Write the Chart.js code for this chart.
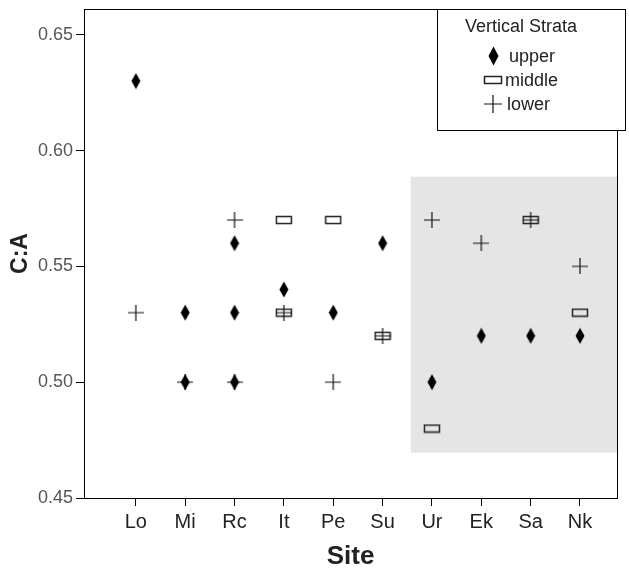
<!DOCTYPE html>
<html>
<head>
<meta charset="utf-8">
<script src="https://cdn.jsdelivr.net/npm/chart.js@4/dist/chart.umd.min.js"></script>
<style>
  html, body { margin: 0; padding: 0; background: #fff; }
  #wrap { width: 629px; height: 570px; }
</style>
</head>
<body>
<div id="wrap"><canvas id="chart" width="629" height="570"></canvas></div>
<script>
// Sites along the x axis
const sites = ['Lo', 'Mi', 'Rc', 'It', 'Pe', 'Su', 'Ur', 'Ek', 'Sa', 'Nk'];

// C:A values per vertical stratum
const upperSite  = ['Lo', 'Mi', 'Mi', 'Rc', 'Rc', 'Rc', 'It', 'Pe', 'Su', 'Ur', 'Ek', 'Sa', 'Nk'];
const upperVal   = [0.63, 0.53, 0.50, 0.56, 0.53, 0.50, 0.54, 0.53, 0.56, 0.50, 0.52, 0.52, 0.52];
const middleSite = ['It', 'It', 'Pe', 'Su', 'Ur', 'Sa', 'Nk'];
const middleVal  = [0.57, 0.53, 0.57, 0.52, 0.48, 0.57, 0.53];
const lowerSite  = ['Lo', 'Mi', 'Rc', 'Rc', 'It', 'Pe', 'Su', 'Ur', 'Ek', 'Sa', 'Nk'];
const lowerVal   = [0.53, 0.50, 0.57, 0.50, 0.53, 0.50, 0.52, 0.57, 0.56, 0.57, 0.55];

const yTicks = [0.45, 0.50, 0.55, 0.60, 0.65];

// shaded group: from Ur to Nk, between these C:A values
const shadeSites = ['Ur', 'Nk'];
const shadeVal = [0.4696, 0.5887];

const FONT = '"Liberation Sans", Arial, sans-serif';

function toPoints(names, vals) {
    return names.map((s, i) => ({ x: sites.indexOf(s), y: vals[i] }));
}

// marker images
function diamondImg(w, h) {
    const c = document.createElement('canvas');
    c.width = w; c.height = h;
    const g = c.getContext('2d');
    g.fillStyle = '#000';
    g.beginPath();
    g.moveTo(w / 2, 0.5); g.lineTo(w - 0.5, h / 2); g.lineTo(w / 2, h - 0.5); g.lineTo(0.5, h / 2);
    g.closePath();
    g.fill();
    return c;
}
function rectImg(w, h) {
    const c = document.createElement('canvas');
    c.width = w; c.height = h;
    const g = c.getContext('2d');
    g.strokeStyle = '#222';
    g.lineWidth = 1.5;
    g.strokeRect(1.5, 1.5, w - 3, h - 3);
    return c;
}
function plusImg(s) {
    const c = document.createElement('canvas');
    c.width = s; c.height = s;
    const g = c.getContext('2d');
    g.strokeStyle = '#111';
    g.lineWidth = 1.2;
    g.beginPath();
    g.moveTo(0, s / 2); g.lineTo(s, s / 2);
    g.moveTo(s / 2, 0); g.lineTo(s / 2, s);
    g.stroke();
    return c;
}
const mkUpper = diamondImg(10, 17), mkMiddle = rectImg(18, 10), mkLower = plusImg(16);
const lgUpper = diamondImg(11, 20), lgMiddle = rectImg(20, 10), lgLower = plusImg(18);

// grey group box behind the points
const shadePlugin = {
    id: 'shade',
    beforeDatasetsDraw(chart) {
        const x = chart.scales.x, y = chart.scales.y, ctx = chart.ctx;
        const x0 = x.getPixelForValue(sites.indexOf(shadeSites[0]) - 0.43);
        const x1 = x.getPixelForValue(sites.indexOf(shadeSites[1]) + 0.75);
        const y0 = y.getPixelForValue(shadeVal[1]);
        const y1 = y.getPixelForValue(shadeVal[0]);
        ctx.save();
        ctx.fillStyle = '#e5e5e5';
        ctx.fillRect(x0, y0, x1 - x0, y1 - y0);
        ctx.restore();
    }
};

// plot frame and legend box
const framePlugin = {
    id: 'frame',
    afterDraw(chart) {
        const a = chart.chartArea, ctx = chart.ctx;
        ctx.save();
        ctx.strokeStyle = '#000';
        ctx.lineWidth = 1;
        ctx.strokeRect(Math.round(a.left) + 0.5, Math.round(a.top) + 0.5,
                       Math.round(a.right - a.left), Math.round(a.bottom - a.top));

        // legend
        const lx = 437, ly = Math.round(a.top), lw = 188, lh = 121;
        ctx.fillStyle = '#fff';
        ctx.fillRect(lx, ly, lw, lh);
        ctx.strokeRect(lx + 0.5, ly + 0.5, lw, lh);
        ctx.fillStyle = '#222';
        ctx.textBaseline = 'middle';
        ctx.textAlign = 'center';
        ctx.font = '18px ' + FONT;
        ctx.fillText('Vertical Strata', lx + 84, ly + 18);
        ctx.textAlign = 'left';
        const items = [[lgUpper, 'upper', 72], [lgMiddle, 'middle', 68], [lgLower, 'lower', 70]];
        items.forEach((it, i) => {
            const cy = ly + 47 + i * 24;
            const img = it[0];
            ctx.drawImage(img, Math.round(lx + 56 - img.width / 2), Math.round(cy - img.height / 2));
            ctx.fillText(it[1], lx + it[2], cy + 1);
        });
        ctx.restore();
    }
};

new Chart(document.getElementById('chart'), {
    type: 'scatter',
    data: {
        datasets: [
            { label: 'upper', data: toPoints(upperSite, upperVal), pointStyle: mkUpper, pointRadius: 8 },
            { label: 'lower', data: toPoints(lowerSite, lowerVal), pointStyle: mkLower, pointRadius: 8 },
            { label: 'middle', data: toPoints(middleSite, middleVal), pointStyle: mkMiddle, pointRadius: 8 }
        ]
    },
    options: {
        responsive: false,
        animation: false,
        layout: { padding: { top: 7, right: 12, left: 0, bottom: 0 } },
        plugins: { legend: { display: false }, tooltip: { enabled: false } },
        scales: {
            x: {
                type: 'linear',
                min: -1.05,
                max: 9.75,
                afterBuildTicks: ax => { ax.ticks = sites.map((s, i) => ({ value: i })); },
                afterFit: ax => { ax.height = 72; ax.paddingLeft = 0; ax.paddingRight = 0; },
                ticks: {
                    callback: v => sites[v],
                    font: { family: FONT, size: 20 },
                    color: '#222',
                    padding: 4
                },
                grid: { drawOnChartArea: false, color: '#000', tickLength: 8 },
                border: { color: '#000' },
                title: {
                    display: true, text: 'Site', color: '#222',
                    font: { family: FONT, size: 26, weight: 'bold', lineHeight: 1 },
                    padding: { top: 0, bottom: 0 }
                }
            },
            y: {
                min: 0.45,
                max: 0.6611,
                afterBuildTicks: ax => { ax.ticks = yTicks.map(v => ({ value: v })); },
                afterFit: ax => { ax.width = 84; ax.paddingTop = 0; ax.paddingBottom = 0; },
                ticks: {
                    callback: v => v.toFixed(2),
                    font: { family: FONT, size: 18 },
                    color: '#555',
                    padding: 3
                },
                grid: { drawOnChartArea: false, color: '#000', tickLength: 8 },
                border: { color: '#000' },
                title: {
                    display: true, text: 'C:A', color: '#222',
                    font: { family: FONT, size: 23, weight: 'bold', lineHeight: 1 },
                    padding: { top: 9, bottom: 0 }
                }
            }
        }
    },
    plugins: [shadePlugin, framePlugin]
});
</script>
</body>
</html>
